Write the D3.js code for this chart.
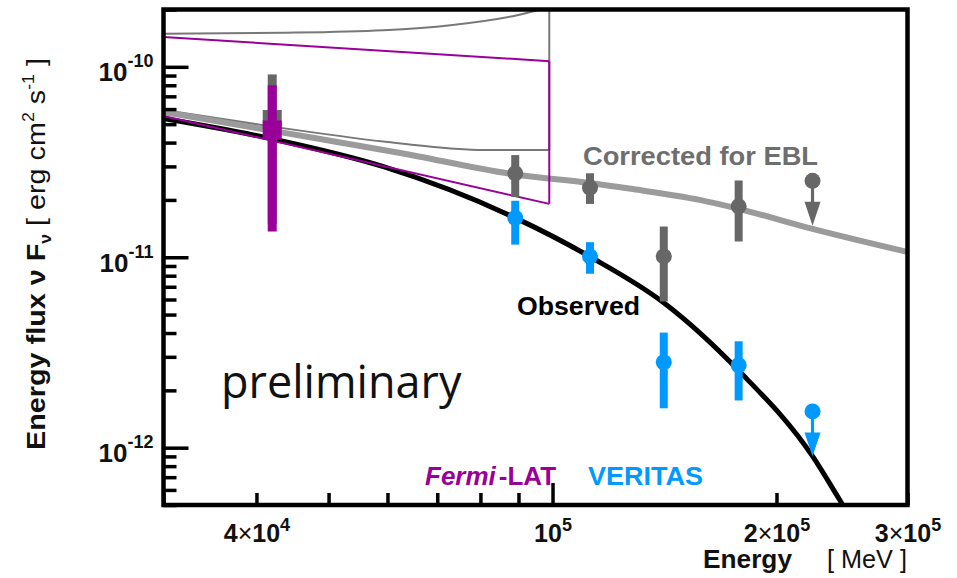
<!DOCTYPE html>
<html>
<head>
<meta charset="utf-8">
<script src="https://cdn.jsdelivr.net/npm/d3@7"></script>
<style>
  body { margin: 0; background: #fff; }
  svg { display: block; font-family: "Liberation Sans", Arial, sans-serif; }
</style>
</head>
<body>
<svg id="chart" width="957" height="578"></svg>
<script>
// values: E in MeV, nuFnu in erg cm^-2 s^-1
var xDomain = [3e4, 3e5];
var yDomain = [5e-13, 2e-10];

var xMajor = [1e5];
var xLabelVals = [4e4, 1e5, 2e5, 3e5];
var xLabelMant = ["4", "", "2", "3"];
var xLabelExp = ["4", "5", "5", "5"];
var yMajor = [1e-12, 1e-11, 1e-10];
var yLabelExp = ["-12", "-11", "-10"];

// Fermi-LAT point, observed and EBL corrected
var latE = [4.2e4];
var latF = [4.66e-11], latLo = [1.365e-11], latHi = [8.0e-11];
var latCorrF = [5.29e-11], latCorrLo = [1.5e-11], latCorrHi = [9.12e-11];

// VERITAS observed
var verE = [8.91e4, 1.123e5, 1.411e5, 1.779e5];
var verF = [1.61e-11, 1.01e-11, 2.81e-12, 2.71e-12];
var verLo = [1.165e-11, 8.19e-12, 1.61e-12, 1.77e-12];
var verHi = [1.98e-11, 1.20e-11, 4.02e-12, 3.62e-12];
var verUlE = [2.236e5], verUlF = [1.55e-12];

// VERITAS corrected for EBL
var corF = [2.76e-11, 2.32e-11, 1.01e-11, 1.85e-11];
var corLo = [2.07e-11, 1.905e-11, 5.86e-12, 1.21e-11];
var corHi = [3.44e-11, 2.76e-11, 1.45e-11, 2.53e-11];
var corUlE = [2.236e5], corUlF = [2.52e-11];

// model curves
var obsE = [3.0e4, 4.206e4, 5.926e4, 8.91e4, 1.123e5, 1.411e5, 1.779e5, 2.236e5, 2.429e5, 2.506e5];
var obsF = [5.35e-11, 4.18e-11, 2.99e-11, 1.61e-11, 1.007e-11, 5.77e-12, 2.54e-12, 9.02e-13, 5.36e-13, 4.39e-13];
var eblE = [3.0e4, 4.206e4, 6.245e4, 8.965e4, 1.123e5, 1.282e5, 1.577e5, 1.779e5, 2.236e5, 2.988e5];
var eblF = [5.79e-11, 4.61e-11, 3.53e-11, 2.71e-11, 2.455e-11, 2.28e-11, 2.0e-11, 1.795e-11, 1.41e-11, 1.07e-11];

// butterflies
var latBandE = [3.0e4, 9.9e4];
var latBandHi = [1.434e-10, 1.071e-10];
var latBandLo = [5.52e-11, 1.907e-11];
var corBandHiE = [3.0e4, 4.35e4, 5.926e4, 7.29e4, 8.965e4, 9.9e4];
var corBandHi = [1.493e-10, 1.51e-10, 1.557e-10, 1.654e-10, 1.866e-10, 2.055e-10];
var corBandLoE = [3.0e4, 4.206e4, 5.926e4, 7.29e4, 8.07e4, 9.9e4];
var corBandLo = [5.93e-11, 4.85e-11, 4.05e-11, 3.73e-11, 3.66e-11, 3.66e-11];

var magenta = "#990099", blue = "#0099ff", grayPt = "#676767",
    grayThin = "#787878", grayThick = "#9b9b9b";

var plotL = 163.5, plotR = 907.5, plotT = 9.5, plotB = 505;

var svg = d3.select("#chart");
var x = d3.scaleLog().domain(xDomain).range([plotL, plotR]);
var y = d3.scaleLog().domain(yDomain).range([plotB, plotT]);

svg.append("defs").append("clipPath").attr("id", "plot")
    .append("rect")
    .attr("x", plotL).attr("y", plotT)
    .attr("width", plotR - plotL).attr("height", plotB - plotT);

var plot = svg.append("g").attr("clip-path", "url(#plot)");

function pts(E, F) { return E.map(function (e, i) { return [e, F[i]]; }); }
var line = d3.line()
    .x(function (d) { return x(d[0]); })
    .y(function (d) { return y(d[1]); })
    .curve(d3.curveMonotoneX);
var straight = d3.line()
    .x(function (d) { return x(d[0]); })
    .y(function (d) { return y(d[1]); });

function band(hiE, hi, loE, lo, color) {
    var g = plot.append("g")
        .attr("fill", "none").attr("stroke", color).attr("stroke-width", 2);
    g.append("path").attr("d", line(pts(hiE, hi)));
    g.append("path").attr("d", line(pts(loE, lo)));
    g.append("path").attr("d", straight([
        [hiE[hiE.length - 1], hi[hi.length - 1]],
        [loE[loE.length - 1], lo[lo.length - 1]]
    ]));
}

band(corBandHiE, corBandHi, corBandLoE, corBandLo, grayThin);

plot.append("path")
    .attr("d", line(pts(eblE, eblF)))
    .attr("fill", "none").attr("stroke", grayThick).attr("stroke-width", 6);

plot.append("path")
    .attr("d", line(pts(obsE, obsF)))
    .attr("fill", "none").attr("stroke", "#000").attr("stroke-width", 5);

band(latBandE, latBandHi, latBandE, latBandLo, magenta);

// points with error bars
function points(E, F, lo, hi, color) {
    var g = plot.append("g").attr("fill", color);
    g.selectAll("rect").data(E).enter().append("rect")
        .attr("x", function (d) { return x(d) - 4; })
        .attr("y", function (d, i) { return y(hi[i]); })
        .attr("width", 8)
        .attr("height", function (d, i) { return y(lo[i]) - y(hi[i]); });
    g.selectAll("circle").data(E).enter().append("circle")
        .attr("cx", function (d) { return x(d); })
        .attr("cy", function (d, i) { return y(F[i]); })
        .attr("r", 8);
}

function upperLimits(E, F, color) {
    var g = plot.append("g").attr("fill", color);
    E.forEach(function (e, i) {
        var cx = x(e), cy = y(F[i]);
        g.append("circle").attr("cx", cx).attr("cy", cy).attr("r", 8);
        g.append("rect").attr("x", cx - 1.6).attr("y", cy).attr("width", 3.2).attr("height", 23);
        g.append("path").attr("d", "M" + (cx - 8) + "," + (cy + 21) +
            "L" + (cx + 8) + "," + (cy + 21) + "L" + cx + "," + (cy + 45) + "Z");
    });
}

function squares(E, F, lo, hi, color) {
    var g = plot.append("g").attr("fill", color);
    g.selectAll("rect.bar").data(E).enter().append("rect").attr("class", "bar")
        .attr("x", function (d) { return x(d) - 4.5; })
        .attr("y", function (d, i) { return y(hi[i]); })
        .attr("width", 9)
        .attr("height", function (d, i) { return y(lo[i]) - y(hi[i]); });
    g.selectAll("rect.box").data(E).enter().append("rect").attr("class", "box")
        .attr("x", function (d) { return x(d) - 9.5; })
        .attr("y", function (d, i) { return y(F[i]) - 9.5; })
        .attr("width", 19).attr("height", 19);
}

points(verE, corF, corLo, corHi, grayPt);
upperLimits(corUlE, corUlF, grayPt);
points(verE, verF, verLo, verHi, blue);
upperLimits(verUlE, verUlF, blue);
squares(latE, latCorrF, latCorrLo, latCorrHi, grayPt);
squares(latE, latF, latLo, latHi, magenta);

// axes (ticks point inwards)
function styleAxis(g) {
    g.select(".domain").remove();
    g.selectAll(".tick line").attr("stroke", "#000").attr("stroke-width", 3.5);
}

var yMinor = y.ticks().filter(function (d) { return yMajor.indexOf(d) < 0; });
svg.append("g").attr("transform", "translate(" + plotL + ",0)")
    .call(d3.axisLeft(y).tickValues(yMinor).tickSize(-13).tickFormat(""))
    .call(styleAxis);
var yAx = svg.append("g").attr("transform", "translate(" + plotL + ",0)")
    .call(d3.axisLeft(y).tickValues(yMajor).tickSize(-25).tickFormat(""))
    .call(styleAxis);
yAx.selectAll(".tick").each(function (d, i) {
    var t = d3.select(this).append("text")
        .attr("x", -10).attr("y", 14)
        .attr("text-anchor", "end").attr("fill", "#111")
        .style("font-weight", "bold").style("font-size", "26px");
    t.append("tspan").text("10");
    t.append("tspan").attr("dy", -14).style("font-size", "18px").text(yLabelExp[i]);
});

var xMinor = x.ticks().filter(function (d) { return xMajor.indexOf(d) < 0; });
svg.append("g").attr("transform", "translate(0," + plotB + ")")
    .call(d3.axisBottom(x).tickValues(xMinor).tickSize(-12).tickFormat(""))
    .call(styleAxis);
svg.append("g").attr("transform", "translate(0," + plotB + ")")
    .call(d3.axisBottom(x).tickValues(xMajor).tickSize(-22).tickFormat(""))
    .call(styleAxis);
var xLab = svg.append("g").attr("transform", "translate(0," + plotB + ")")
    .call(d3.axisBottom(x).tickValues(xLabelVals).tickSize(0).tickFormat(""));
xLab.select(".domain").remove();
xLab.selectAll(".tick").each(function (d, i) {
    var t = d3.select(this).append("text")
        .attr("x", 0).attr("y", 37)
        .attr("text-anchor", "middle").attr("fill", "#111")
        .style("font-weight", "bold").style("font-size", "25px");
    if (xLabelMant[i]) {
        t.append("tspan").text(xLabelMant[i]);
        t.append("tspan").style("font-weight", "normal").text("\u00d7");
    }
    t.append("tspan").text("10");
    t.append("tspan").attr("dy", -11).style("font-size", "18px").text(xLabelExp[i]);
});

// frame
svg.append("rect")
    .attr("x", plotL).attr("y", plotT)
    .attr("width", plotR - plotL).attr("height", plotB - plotT)
    .attr("fill", "none").attr("stroke", "#000").attr("stroke-width", 4.5);

// axis titles
svg.append("text").attr("x", 703).attr("y", 568)
    .style("font-weight", "bold").style("font-size", "25px").attr("fill", "#111")
    .attr("textLength", 89).attr("lengthAdjust", "spacingAndGlyphs")
    .text("Energy");
svg.append("text").attr("x", 827).attr("y", 568)
    .style("font-size", "25px").attr("fill", "#111")
    .attr("textLength", 80).attr("lengthAdjust", "spacingAndGlyphs")
    .text("[ MeV ]");

var yt = svg.append("text")
    .attr("text-anchor", "middle").attr("fill", "#111")
    .style("font-size", "26px");
yt.append("tspan").style("font-weight", "bold").text("Energy flux  \u03bd F");
yt.append("tspan").attr("dy", 6).style("font-weight", "bold").style("font-size", "16px").text("\u03bd");
yt.append("tspan").attr("dy", -6).text("  [ erg cm");
yt.append("tspan").attr("dy", -11).style("font-size", "16px").text("2");
yt.append("tspan").attr("dy", 11).text(" s");
yt.append("tspan").attr("dy", -11).style("font-size", "16px").text("-1");
yt.append("tspan").attr("dy", 11).text(" ]");
var ytLen = yt.node().getComputedTextLength();
yt.attr("transform", "translate(45,254) rotate(-90) scale(" + (392 / ytLen) + ",1)");

// annotations
svg.append("text").attr("x", 583).attr("y", 165)
    .attr("fill", "#6e6e6e").style("font-weight", "bold").style("font-size", "26px")
    .attr("textLength", 235).attr("lengthAdjust", "spacingAndGlyphs")
    .text("Corrected for EBL");
svg.append("text").attr("x", 517).attr("y", 315)
    .attr("fill", "#000").style("font-weight", "bold").style("font-size", "26px")
    .attr("textLength", 123).attr("lengthAdjust", "spacingAndGlyphs")
    .text("Observed");
svg.append("text").attr("x", 221).attr("y", 398)
    .attr("fill", "#111").style("font-family", "'Open Sans', 'Noto Sans', sans-serif")
    .style("font-size", "45px")
    .text("preliminary");

var leg = svg.append("text").attr("x", 425).attr("y", 485)
    .attr("fill", magenta).style("font-weight", "bold").style("font-size", "26px");
leg.append("tspan").style("font-style", "italic").text("Fermi");
leg.append("tspan").attr("dx", 3).text("-LAT");
svg.append("text").attr("x", 588).attr("y", 485)
    .attr("fill", blue).style("font-weight", "bold").style("font-size", "26px")
    .attr("textLength", 115).attr("lengthAdjust", "spacingAndGlyphs")
    .text("VERITAS");
</script>
</body>
</html>
